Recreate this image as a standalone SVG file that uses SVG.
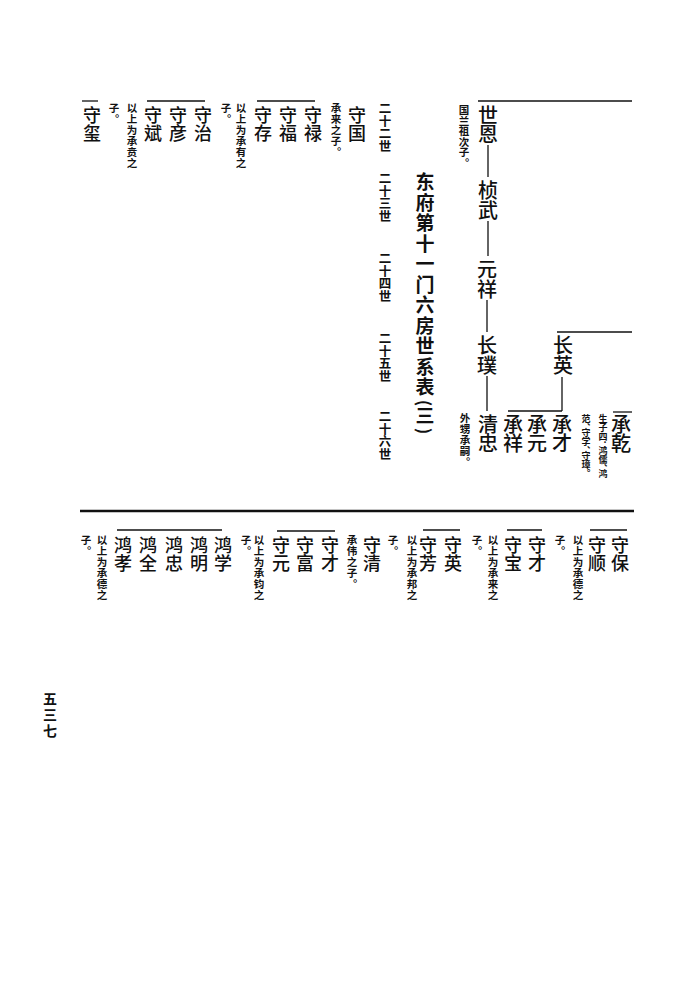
<svg xmlns="http://www.w3.org/2000/svg" width="674" height="1007" viewBox="0 0 674 1007">
<style>
text{font-family:"Noto Sans CJK SC","Noto Sans CJK TC",sans-serif;fill:#111;text-anchor:middle}
.n20{font-size:20px;font-weight:500}
.n18{font-size:18px;font-weight:500}
.nt{font-size:10.5px;font-weight:700}
.ns{font-size:9px;font-weight:700}
.gen{font-size:12.5px;font-weight:700}
.ttl{font-size:19px;font-weight:700}
.par{font-size:17px;font-weight:700;dominant-baseline:central}
.pg{font-size:14px;font-weight:700}
.ln{stroke:#111;stroke-width:1.3;fill:none}
.thick{stroke:#111;stroke-width:2.6;fill:none}
</style>
<rect width="674" height="1007" fill="#fff"/>
<g id="connectors">
<path class="ln" d="M478 101H632"/>
<path class="ln" d="M488 145V177"/>
<path class="ln" d="M488 221V256"/>
<path class="ln" d="M487 300V332"/>
<path class="ln" d="M487 376V411"/>
<path class="ln" d="M557 332H632"/>
<path class="ln" d="M562 377V411"/>
<path class="ln" d="M508 411H562"/>
<path class="ln" d="M613 412H632"/>
<path class="ln" d="M257 101H315"/>
<path class="ln" d="M147 101H205"/>
<path class="ln" d="M82 101H98"/>
<path class="thick" d="M80 511H634"/>
<path class="ln" d="M590 530H627"/>
<path class="ln" d="M507 530H542"/>
<path class="ln" d="M423 530H460"/>
<path class="ln" d="M277 531H335"/>
<path class="ln" d="M117 530H222"/>
</g>
<g id="title">
<text class="ttl" x="425 425 425 425 425 425 425 425 425 425 425" y="189 209.5 230 250.5 271 291.5 312 332.5 353 373.5 394">东府第十一门六房世系表</text>
<text class="par" transform="translate(425,403) rotate(90)">(</text>
<text class="ttl" x="425" y="423">三</text>
<text class="par" transform="translate(425,431) rotate(90)">)</text>
</g>
<g id="generations">
<text class="gen" x="385 385 385 385" y="113 125.5 138 150.5">二十二世</text>
<text class="gen" x="385 385 385 385" y="183 195.5 208 220.5">二十三世</text>
<text class="gen" x="385 385 385 385" y="263 275.5 288 300.5">二十四世</text>
<text class="gen" x="385 385 385 385" y="343 355.5 368 380.5">二十五世</text>
<text class="gen" x="385 385 385 385" y="421 433.5 446 458.5">二十六世</text>
</g>
<g id="n-shien"><text class="n20" x="488 488" y="123 142">世恩</text><text class="nt" x="464 464 464 464 464 464" y="114 124.5 135 145.5 156 166.5">国兰祖次子︒</text></g>
<g id="n-zhenwu"><text class="n20" x="488 488" y="198 218">桢武</text></g>
<g id="n-yuanxiang"><text class="n20" x="487 487" y="277 297">元祥</text></g>
<g id="n-changpu"><text class="n20" x="487 487" y="353 373">长璞</text></g>
<g id="n-qingzhong"><text class="n20" x="488 488" y="432 451">清忠</text><text class="nt" x="465 465 465 465 465" y="422 433 444 455 466">外甥承嗣︒</text></g>
<g id="n-changying"><text class="n20" x="563 563" y="353 373">长英</text></g>
<g id="n-chengcai"><text class="n20" x="562 562" y="432 451">承才</text></g>
<g id="n-chengyuan"><text class="n20" x="537 537" y="432 451">承元</text></g>
<g id="n-chengxiang"><text class="n20" x="513 513" y="432 451">承祥</text></g>
<g id="n-chengqian"><text class="n20" x="621 621" y="432 451">承乾</text>
<text class="ns" x="603 603 603 603 603 603 603 603" y="422 431 440 449 454 463 472 477">生子四︓鸿儒︑鸿</text>
<text class="ns" x="586 586 586 586 586 586 586 586" y="422 431 436 445 454 459 468 477">范︑守学︑守璋︒</text></g>
<g id="n-shouguo"><text class="n18" x="357 357" y="122 140">守国</text><text class="nt" x="336 336 336 336 336" y="112 123 134 145 156">承来之子︒</text></g>
<g id="n-shoulu"><text class="n18" x="313 313" y="122 140">守禄</text></g>
<g id="n-shoufu"><text class="n18" x="288 288" y="122 140">守福</text></g>
<g id="n-shoucun"><text class="n18" x="263 263" y="122 140">守存</text></g>
<g id="note-chengyou"><text class="nt" x="241 241 241 241 241 241" y="112 123 134 145 156 167">以上为承有之</text><text class="nt" x="226 226" y="112 123">子︒</text></g>
<g id="n-shouzhi"><text class="n18" x="203 203" y="122 140">守治</text></g>
<g id="n-shouyan"><text class="n18" x="178 178" y="122 140">守彦</text></g>
<g id="n-shoubin"><text class="n18" x="153 153" y="122 140">守斌</text></g>
<g id="note-chengben"><text class="nt" x="132 132 132 132 132 132" y="112 123 134 145 156 167">以上为承贲之</text><text class="nt" x="114 114" y="112 123">子︒</text></g>
<g id="n-shouxi"><text class="n18" x="92 92" y="122 140">守玺</text></g>
<g id="n-shoubao"><text class="n18" x="620 620" y="552 570">守保</text></g>
<g id="n-shoushun"><text class="n18" x="597 597" y="552 570">守顺</text></g>
<g id="note-chengde1"><text class="nt" x="578 578 578 578 578 578" y="544 555 566 577 588 599">以上为承德之</text><text class="nt" x="560 560" y="544 555">子︒</text></g>
<g id="n-shoucai1"><text class="n18" x="537 537" y="552 570">守才</text></g>
<g id="n-shoubao2"><text class="n18" x="513 513" y="552 570">守宝</text></g>
<g id="note-chenglai"><text class="nt" x="493 493 493 493 493 493" y="544 555 566 577 588 599">以上为承来之</text><text class="nt" x="477 477" y="544 555">子︒</text></g>
<g id="n-shouying"><text class="n18" x="453 453" y="552 570">守英</text></g>
<g id="n-shoufang"><text class="n18" x="428 428" y="552 570">守芳</text></g>
<g id="note-chengbang"><text class="nt" x="412 412 412 412 412 412" y="544 555 566 577 588 599">以上为承邦之</text><text class="nt" x="393 393" y="544 555">子︒</text></g>
<g id="n-shouqing"><text class="n18" x="372 372" y="552 570">守清</text><text class="nt" x="352 352 352 352 352" y="544 555 566 577 588">承伟之子︒</text></g>
<g id="n-shoucai2"><text class="n18" x="330 330" y="552 570">守才</text></g>
<g id="n-shoufu2"><text class="n18" x="305 305" y="552 570">守富</text></g>
<g id="n-shouyuan"><text class="n18" x="281 281" y="552 570">守元</text></g>
<g id="note-chengjun"><text class="nt" x="259 259 259 259 259 259" y="544 555 566 577 588 599">以上为承钧之</text><text class="nt" x="246 246" y="544 555">子︒</text></g>
<g id="n-hongxue"><text class="n18" x="223 223" y="552 570">鸿学</text></g>
<g id="n-hongming"><text class="n18" x="199 199" y="552 570">鸿明</text></g>
<g id="n-hongzhong"><text class="n18" x="174 174" y="552 570">鸿忠</text></g>
<g id="n-hongquan"><text class="n18" x="148 148" y="552 570">鸿全</text></g>
<g id="n-hongxiao"><text class="n18" x="123 123" y="552 570">鸿孝</text></g>
<g id="note-chengde2"><text class="nt" x="102 102 102 102 102 102" y="544 555 566 577 588 599">以上为承德之</text><text class="nt" x="86 86" y="544 555">子︒</text></g>
<g id="page-number"><text class="pg" x="50 50 50" y="704 720 736">五三七</text></g>
</svg>
